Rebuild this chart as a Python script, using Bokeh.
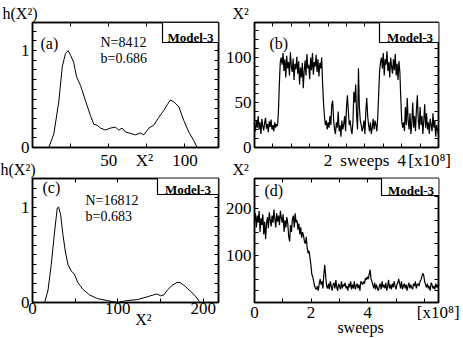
import numpy as np
from bokeh.plotting import figure
from bokeh.models import LinearAxis, FixedTicker, Label, Range1d, BoxAnnotation, Title
from bokeh.layouts import column, row
from bokeh.embed import file_html
from bokeh.resources import INLINE

# ---------------- data ----------------
# (a) histogram h(X^2), N=8412
a_x2 = [10.7, 14, 17.3, 19.5, 21.6, 23.4, 25, 27, 28.9, 31.5, 34.8, 38, 40.2, 42.4, 44.6,
        47.9, 51, 54.4, 56.6, 58.8, 61, 63.4, 67.5, 70.8, 73, 76.3, 79.5, 82.8, 86, 88.3,
        90.5, 92.7, 96, 99.2, 102.5, 105.8, 108]
a_h = [0, 0.14, 0.48, 0.83, 0.97, 1.0, 0.95, 0.88, 0.73, 0.64, 0.48, 0.33, 0.24, 0.23, 0.20,
       0.18, 0.20, 0.21, 0.18, 0.20, 0.16, 0.15, 0.13, 0.15, 0.13, 0.20, 0.23, 0.31, 0.38, 0.44,
       0.49, 0.47, 0.42, 0.28, 0.16, 0.07, 0.0]

# (c) histogram h(X^2), N=16812
c_x2 = [14.3, 18.2, 22, 26, 29, 30.6, 33, 35.7, 38.4, 41.5, 45.3, 49, 53, 59, 66.7, 76.4, 88,
        99.6, 111, 123, 134.5, 142, 146, 150, 154, 158, 163.6, 169.4, 173, 179, 185, 190.7, 195.7]
c_h = [0, 0.13, 0.40, 0.75, 0.99, 1.0, 0.92, 0.71, 0.54, 0.40, 0.33, 0.30, 0.21, 0.14, 0.08,
       0.04, 0.02, 0.0, 0.02, 0.03, 0.06, 0.08, 0.09, 0.07, 0.08, 0.13, 0.18, 0.21, 0.21, 0.17,
       0.12, 0.07, 0.01]

# (b) X^2 time series over 0..5 x10^8 sweeps (uniform samples)
b_x2 = [25, 18, 30, 22, 35, 20, 28, 15, 32, 24, 19, 27, 33, 21, 26, 17, 29, 23, 31, 20, 25, 18, 28, 22, 26, 24,
        40, 70, 95, 100,
        92, 105, 85, 98, 78, 102, 88, 95, 80, 106, 90, 84, 99, 75, 93, 87, 101, 82, 96, 70, 89, 78, 94, 66, 85,
        97, 80, 104, 88, 92, 76, 100, 86, 105, 81, 95, 90, 103, 84, 98, 79, 94, 88, 100, 72,
        50, 35, 25, 30, 20, 28,
        22, 35, 25, 48, 52, 30, 20, 15, 28, 22, 40, 18, 25, 12, 30, 20, 26, 35, 18, 45, 58, 40, 25, 30, 20, 15,
        28, 62, 50, 70, 35, 20, 88, 45, 30, 25, 18, 22, 30, 15, 40, 55, 35, 25, 18, 28, 15, 22, 32, 20, 30, 25,
        18, 35,
        60, 85, 95, 100,
        88, 105, 80, 98, 92, 107, 85, 95, 78, 100, 90, 82, 98, 86, 104, 80, 93, 75, 96, 84,
        55, 30, 22, 28,
        18, 45, 25, 55, 30, 20, 38, 15, 28, 50, 22, 35, 18, 42, 58, 30, 20, 45, 25, 35, 15, 30, 48, 22, 38, 20,
        28, 15, 32, 25, 18, 38, 22, 30, 12, 25, 20, 15]
b_sweeps = np.linspace(0.0, 5.0, len(b_x2))

# (d) X^2 time series over 0..6.5 x10^8 sweeps (uniform samples)
d_x2 = [175, 190, 160, 185, 170, 195, 150, 180, 165, 188, 145, 172, 135, 168, 182, 158, 192, 175, 162, 185,
        170, 198, 178, 160, 190, 172, 185, 165, 195, 180, 170, 188, 150, 175, 160, 182, 168, 140, 130, 165,
        150, 178, 185, 160, 190, 170, 175, 155, 168, 145, 160, 138, 150, 142, 130,
        125, 140, 115, 105, 110, 95, 80, 60, 55, 45, 35, 30,
        28, 35, 25, 40, 50, 38, 45, 30, 60, 80, 55, 35, 30, 40, 28, 45, 35, 25, 38, 42,
        30, 48, 32, 25, 40, 35, 28, 45, 30, 38, 35, 42, 30, 35, 25, 40, 32, 45, 28, 38,
        30, 45, 28, 35, 40, 30, 38, 25, 45, 42, 38, 45, 40, 52, 48, 55, 50, 60, 70, 50,
        45, 38, 30, 42, 28, 38, 30, 25, 35, 40, 28, 45, 32, 38, 30, 42, 25, 35, 48, 30,
        38, 28, 40, 32, 45, 35, 28, 38, 42, 50, 40, 30, 45, 28, 35, 40, 30, 38, 25, 35,
        42, 30, 38, 32, 28, 40, 35, 45, 30, 38, 40, 35, 45, 48, 55, 62, 58, 45, 38, 32,
        40, 30, 35, 25, 42, 38, 30, 35, 28, 40, 32, 38, 30]
d_sweeps = np.linspace(0.0, 6.5, len(d_x2))

# tick labels (position -> text) and tick marks
a_xlabels = {50: "50", 73.4: "X²", 100: "100"}
a_xmarks = [25, 50, 75, 100]
a_ylabels = {0: "0", 1: "1"}
b_xlabels = {2: "2", 3: "sweeps", 4: "4", 4.76: "[x10⁸]"}
b_xmarks = [0.5, 1, 1.5, 2, 2.5, 3, 3.5, 4, 4.5]
b_ylabels = {0: "0", 50: "50", 100: "100"}
c_xlabels = {0: "0", 100: "100", 200: "200"}
c_xmarks = [50, 100, 150, 200]
c_ylabels = {0: "0", 1: "1"}
d_xlabels = {0: "0", 2: "2", 4: "4", 6.49: "[x10⁸]"}
d_xmarks = [1, 2, 3, 4, 5, 6]
d_ylabels = {100: "100", 200: "200"}
h_marks = [round(0.1 * k, 1) for k in range(1, 13)]
b_ymarks = list(range(10, 140, 10))
d_ymarks = list(range(25, 264, 25))

FONT = "Liberation Serif"


def style_axis(ax):
    ax.axis_line_color = "black"
    ax.axis_line_width = 1.5
    ax.major_tick_line_color = "black"
    ax.minor_tick_line_color = "black"
    ax.minor_tick_line_width = 1
    ax.major_tick_in = 0
    ax.major_tick_out = 0
    ax.minor_tick_in = 4
    ax.minor_tick_out = 0
    ax.major_label_text_font = FONT
    ax.major_label_text_color = "black"
    ax.major_label_text_font_size = "17px"


def panel(w, h, borders, xr, yr, xlab, xmarks, ylab, ymarks, xstand=3):
    p = figure(width=w, height=h, x_range=Range1d(*xr), y_range=Range1d(*yr),
               x_axis_type=None, y_axis_type=None, output_backend="svg",
               toolbar_location=None,
               min_border_left=borders[0], min_border_right=borders[1],
               min_border_top=borders[2], min_border_bottom=borders[3])
    p.title.visible = False
    p.outline_line_color = "black"
    p.outline_line_width = 1.5
    p.background_fill_color = "white"
    p.border_fill_color = None
    bx = LinearAxis(ticker=FixedTicker(ticks=list(xlab.keys()), minor_ticks=xmarks))
    style_axis(bx)
    bx.major_label_overrides = xlab
    bx.major_label_standoff = xstand
    p.add_layout(bx, "below")
    ly = LinearAxis(ticker=FixedTicker(ticks=list(ylab.keys()), minor_ticks=ymarks))
    style_axis(ly)
    ly.major_label_overrides = ylab
    ly.major_label_standoff = 3
    p.add_layout(ly, "left")
    for side, marks in (("above", xmarks), ("right", ymarks)):
        ax = LinearAxis(ticker=FixedTicker(ticks=[], minor_ticks=marks))
        style_axis(ax)
        ax.major_label_text_font_size = "0px"
        ax.major_label_text_color = None
        ax.major_label_standoff = 0
        p.add_layout(ax, side)
    return p, bx


def top_title(p, text, offset):
    p.add_layout(Title(text=text, align="left", offset=offset, standoff=1,
                       text_font=FONT, text_font_size="16px", text_font_style="normal",
                       text_color="black"), "above")


def put(p, fl, fb, text, x, y, size, bold=False, align="left"):
    p.add_layout(Label(x=x - fl, y=fb - y, x_units="screen", y_units="screen", text=text,
                       text_font=FONT, text_font_size=f"{size}px",
                       text_font_style="bold" if bold else "normal",
                       text_align=align, text_baseline="alphabetic", text_color="black"))


def model_box(p, fl, fb, x0, x1, y0, y1):
    p.add_layout(BoxAnnotation(left=x0 - fl, right=x1 - fl, top=fb - y0, bottom=fb - y1,
                               left_units="screen", right_units="screen",
                               top_units="screen", bottom_units="screen",
                               fill_color="white", fill_alpha=1.0,
                               line_color="black", line_alpha=1.0, line_width=1.2))
    put(p, fl, fb, "Model-3", (x0 + x1) / 2, y1 - 5, 13, bold=True, align="center")


# ---- (a) ----  frame x 32..218, y 22..147
pa, _ = panel(222, 172, (32, 4, 22, 25), (0, 122), (0, 1.29),
              a_xlabels, a_xmarks, a_ylabels, h_marks)
pa.line(a_x2, a_h, line_color="black", line_width=1)
top_title(pa, "h(X²)", -30)
FLa, FBa = 32, 147
put(pa, FLa, FBa, "(a)", 40, 43, 16)
put(pa, FLa, FBa, "N=8412", 100, 42, 14)
put(pa, FLa, FBa, "b=0.686", 100, 58, 14)
model_box(pa, FLa, FBa, 162, 218, 22, 42)

# ---- (b) ----  frame x 252..438, y 22..147
pb, _ = panel(241, 172, (30, 25, 22, 25), (0, 5), (0, 139),
              b_xlabels, b_xmarks, b_ylabels, b_ymarks)
pb.line(b_sweeps, b_x2, line_color="black", line_width=1.2)
top_title(pb, "X²", -22)
FLb, FBb = 252, 147
put(pb, FLb, FBb, "(b)", 267, 43, 16)
model_box(pb, FLb, FBb, 377, 438, 22, 42)

# ---- (c) ----  frame x 32..218, y 178..305 (figure starts at y 156)
pc, cx = panel(222, 182, (32, 4, 22, 33), (0, 218), (0, 1.3),
               c_xlabels, c_xmarks, c_ylabels, h_marks, xstand=0)
pc.line(c_x2, c_h, line_color="black", line_width=1)
cx.axis_label = "\u00a0" * 9 + "X²"
cx.axis_label_standoff = -6
cx.axis_label_text_font = FONT
cx.axis_label_text_font_size = "16px"
cx.axis_label_text_font_style = "normal"
cx.axis_label_text_color = "black"
top_title(pc, "h(X²)", -32)
FLc, FBc = 32, 305
put(pc, FLc, FBc, "(c)", 42, 190, 16)
put(pc, FLc, FBc, "N=16812", 85, 203, 14)
put(pc, FLc, FBc, "b=0.683", 85, 219, 14)
model_box(pc, FLc, FBc, 157, 218, 178, 197)

# ---- (d) ----  frame x 252..438, y 178..305
pd_, dx = panel(241, 182, (30, 25, 22, 33), (0, 6.5), (0, 264),
                d_xlabels, d_xmarks, d_ylabels, d_ymarks, xstand=0)
pd_.line(d_sweeps, d_x2, line_color="black", line_width=1.2)
dx.axis_label = "\u00a0" * 7 + "sweeps"
dx.axis_label_standoff = -6
dx.axis_label_text_font = FONT
dx.axis_label_text_font_size = "16px"
dx.axis_label_text_font_style = "normal"
dx.axis_label_text_color = "black"
top_title(pd_, "X²", -22)
FLd, FBd = 252, 305
put(pd_, FLd, FBd, "(d)", 262, 193, 16)
model_box(pd_, FLd, FBd, 379, 438, 178, 198)

layout = column(row(pa, pb), row(pc, pd_, margin=(-16, 0, 0, 0)))
open("out.html", "w").write(file_html(layout, INLINE))
